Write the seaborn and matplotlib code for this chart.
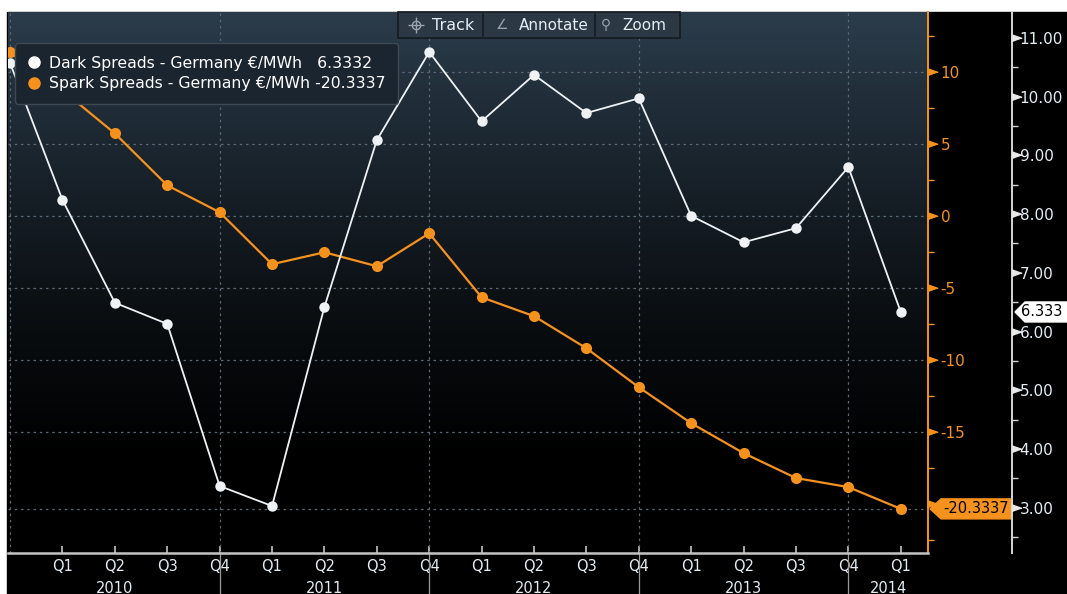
import matplotlib
matplotlib.use("Agg")
import matplotlib.pyplot as plt
import matplotlib.transforms as mtransforms
from matplotlib.colors import LinearSegmentedColormap
from matplotlib.lines import Line2D
from matplotlib.patches import Polygon, Rectangle
from matplotlib.ticker import FixedLocator, FuncFormatter
import numpy as np
import pandas as pd
import seaborn as sns

# quarterly points, Q4 2009 .. Q1 2014
periods = ["2009Q4",
           "2010Q1", "2010Q2", "2010Q3", "2010Q4",
           "2011Q1", "2011Q2", "2011Q3", "2011Q4",
           "2012Q1", "2012Q2", "2012Q3", "2012Q4",
           "2013Q1", "2013Q2", "2013Q3", "2013Q4",
           "2014Q1"]
dark_spreads = [10.57, 8.24, 6.49, 6.13, 3.37, 3.03, 6.42, 9.26, 10.76,
                9.58, 10.37, 9.72, 9.97, 7.97, 7.52, 7.76, 8.80, 6.3332]
spark_spreads = [11.39, 8.75, 5.76, 2.15, 0.28, -3.33, -2.50, -3.47, -1.18,
                 -5.63, -6.94, -9.17, -11.88, -14.38, -16.46, -18.19, -18.82, -20.3337]
years = ["2010", "2011", "2012", "2013", "2014"]
year_centers = [2, 6, 10, 14, 16.76]
year_breaks = [4, 8, 12, 16]
spark_ticks = [-20, -15, -10, -5, 0, 5, 10]
dark_ticks = [3, 4, 5, 6, 7, 8, 9, 10, 11]

df = pd.DataFrame({"idx": np.arange(len(periods)), "period": periods,
                   "dark": dark_spreads, "spark": spark_spreads})

ORANGE = "#f5921e"
TXT = "#e4ecf3"
W, H = 1067, 594

sns.set_style("dark")
plt.rcParams["font.family"] = ["DejaVu Sans"]

fig = plt.figure(figsize=(W / 100, H / 100), dpi=100, facecolor="white")
fig.add_artist(Rectangle((7 / W, 0), 1, (H - 12) / H, transform=fig.transFigure,
                         color="black", zorder=-5))

ax_l, ax_r, ax_t, ax_b = 8, 928, 12, 553
ax = fig.add_axes([ax_l / W, 1 - ax_b / H, (ax_r - ax_l) / W, (ax_b - ax_t) / H])
ax.set_facecolor("black")
ax2 = ax.twinx()

xlim = (-0.04, 17.52)
ylim = (-23.4, 14.2)
ylim2 = (2.23, 11.44)

# background gradient: slate blue at top fading to black
t = np.linspace(0, 1, 300)[:, None]
grad = np.clip(1 - t / 0.85, 0, 1) ** 1.3
cmap = LinearSegmentedColormap.from_list("bg", ["#000000", "#2b3c4b"])
ax.imshow(grad, cmap=cmap, vmin=0, vmax=1, aspect="auto",
          extent=(xlim[0], xlim[1], ylim[0], ylim[1]), origin="upper", zorder=0)

# grid
for v in spark_ticks[1:] + [spark_spreads[-1]]:
    ax.axhline(v, color="#5d6873", lw=0.9, ls=(0, (2, 3)), zorder=1)
for v in [0] + year_breaks:
    ax.axvline(v, color="#5d6873", lw=0.9, ls=(0, (2, 3)), zorder=1)

sns.lineplot(data=df, x="idx", y="spark", ax=ax, color=ORANGE, lw=1.6,
             marker="o", markersize=8, markeredgewidth=0, legend=False, zorder=3)
sns.lineplot(data=df, x="idx", y="dark", ax=ax2, color="#eef2f5", lw=1.3,
             marker="o", markersize=7.5, markeredgewidth=0, legend=False, zorder=3)

ax.set_xlim(*xlim)
ax.set_ylim(*ylim)
ax2.set_ylim(*ylim2)
for a in (ax, ax2):
    a.set_xlabel("")
    a.set_ylabel("")
    a.grid(False)

# x axis
ax.set_xticks(range(1, 18))
ax.set_xticklabels([p[-2:] for p in periods[1:]])
ax.tick_params(axis="x", direction="in", length=5, width=1.2, color="#c4c4c4",
               labelcolor=TXT, labelsize=10.5, pad=4, bottom=True)
for s in ("top", "left"):
    ax.spines[s].set_visible(False)
ax.spines["bottom"].set_color("#c4c4c4")
ax.spines["bottom"].set_linewidth(1.8)
bx = mtransforms.blended_transform_factory(ax.transData, ax.transAxes)
for xb in year_breaks:
    ax.plot([xb, xb], [0, -41 / 541], transform=bx, color="#9a9a9a", lw=0.9, clip_on=False)
for yr, xc in zip(years, year_centers):
    ax.annotate(yr, xy=(xc, 0), xycoords=bx, xytext=(0, -20), textcoords="offset points",
                ha="center", va="top", color=TXT, fontsize=10.5)

# orange (spark) axis on the right edge of the plot
tri = [(0, -0.35), (0, 0.35), (1, 0)]
ax.yaxis.tick_right()
ax.yaxis.set_major_locator(FixedLocator(spark_ticks))
ax.yaxis.set_major_formatter(FuncFormatter(lambda v, p: "" if v == -20 else f"{v:g}"))
ax.yaxis.set_minor_locator(FixedLocator([-22.5, -17.5, -12.5, -7.5, -2.5, 2.5, 7.5, 12.5]))
ax.tick_params(axis="y", which="major", length=0, pad=9, labelcolor=ORANGE, labelsize=11,
               left=False, right=True)
ax.tick_params(axis="y", which="minor", length=4, width=1, color=ORANGE, direction="out",
               left=False, right=True)
ax.spines["right"].set_color(ORANGE)
ax.spines["right"].set_linewidth(1.4)
ty = mtransforms.blended_transform_factory(ax.transAxes, ax.transData)
ax.plot([1] * len(spark_ticks), spark_ticks, transform=ty, ls="none", marker=tri,
        ms=14, color=ORANGE, clip_on=False, zorder=4)

# white (dark) axis, offset to the right
off = 84
ax2.spines["right"].set_position(("outward", off * 0.72))
ax2.spines["right"].set_color("#d6d6d6")
ax2.spines["right"].set_linewidth(1.4)
for s in ("top", "left", "bottom"):
    ax2.spines[s].set_visible(False)
ax2.yaxis.set_major_locator(FixedLocator(dark_ticks))
ax2.yaxis.set_major_formatter(FuncFormatter(lambda v, p: f"{v:.2f}"))
ax2.yaxis.set_minor_locator(FixedLocator(np.arange(2.5, 11.0, 1.0)))
ax2.tick_params(axis="y", which="major", length=0, pad=5.5, labelcolor=TXT, labelsize=11,
                right=True, left=False)
ax2.tick_params(axis="y", which="minor", length=4, width=1, color="#d6d6d6", direction="out",
                right=True, left=False)
ty2 = mtransforms.blended_transform_factory(ax2.transAxes, ax2.transData)
ax2.plot([1 + off / 920] * len(dark_ticks), dark_ticks, transform=ty2, ls="none", marker=tri,
         ms=14, color="#e8e8e8", clip_on=False, zorder=4)

# last-value tags
fx = mtransforms.blended_transform_factory(fig.transFigure, ax.transData)
v = spark_spreads[-1]
h = 10 * (ylim[1] - ylim[0]) / 541
ax.add_patch(Polygon([(930 / W, v), (941 / W, v + h), (1011 / W, v + h), (1011 / W, v - h),
                      (941 / W, v - h)], closed=True, transform=fx, color=ORANGE,
                     clip_on=False, zorder=6))
ax.text(976 / W, v, f"{v:.4f}", transform=fx, ha="center", va="center", color="black",
        fontsize=10.5, zorder=7)

fx2 = mtransforms.blended_transform_factory(fig.transFigure, ax2.transData)
v2 = dark_spreads[-1]
h2 = 10 * (ylim2[1] - ylim2[0]) / 541
ax2.add_patch(Polygon([(1015 / W, v2), (1025 / W, v2 + h2), (1080 / W, v2 + h2),
                       (1080 / W, v2 - h2), (1025 / W, v2 - h2)], closed=True, transform=fx2,
                      facecolor="white", edgecolor="white", clip_on=False, zorder=6))
ax2.text(1021 / W, v2, f"{v2:.3f}", transform=fx2, ha="left", va="center", color="black",
         fontsize=10.5, zorder=7)

# legend
handles = [Line2D([], [], ls="none", marker="o", ms=8, color="white"),
           Line2D([], [], ls="none", marker="o", ms=8, color=ORANGE)]
labels = [f"Dark Spreads - Germany €/MWh   {dark_spreads[-1]:.4f}",
          f"Spark Spreads - Germany €/MWh {spark_spreads[-1]:.4f}"]
leg = ax2.legend(handles, labels, loc="upper left", bbox_to_anchor=(0.0076, 0.9427),
                 frameon=True, facecolor="#1b2530", edgecolor="#3e4852", framealpha=1,
                 labelcolor="white", fontsize=11.3, handlelength=0.8, handletextpad=0.55,
                 borderpad=0.8, labelspacing=0.35, borderaxespad=0)
leg.set_zorder(10)

# toolbar
def fy(py):
    return 1 - py / H

fig.add_artist(Rectangle((398 / W, fy(38)), (680 - 398) / W, 26 / H, transform=fig.transFigure,
                         facecolor="#2c3843", edgecolor="#141a20", lw=1.2, zorder=5))
for sx in (483, 595):
    fig.add_artist(Line2D([sx / W, sx / W], [fy(36), fy(14)], transform=fig.transFigure,
                          color="#161c22", lw=1.2, zorder=6))
# crosshair icon for "Track"
fig.add_artist(Line2D([416 / W], [fy(25)], transform=fig.transFigure, marker="o", ms=6,
                      mfc="none", mec="#9aa3ab", mew=1, zorder=7))
fig.add_artist(Line2D([416 / W], [fy(25)], transform=fig.transFigure, marker="+", ms=12,
                      mec="#9aa3ab", mew=1, zorder=7))
for ix, icon, lx, label in [(502, "∠", 519, "Annotate"), (606, "⚲", 622, "Zoom")]:
    fig.text(ix / W, fy(25), icon, color="#9aa3ab", fontsize=10, ha="center", va="center",
             zorder=7)
    fig.text(lx / W, fy(25), label, color=TXT, fontsize=11, ha="left", va="center", zorder=7)
fig.text(432 / W, fy(25), "Track", color=TXT, fontsize=11.5, ha="left", va="center", zorder=7)

fig.savefig("out.png", dpi=100, facecolor=fig.get_facecolor())
